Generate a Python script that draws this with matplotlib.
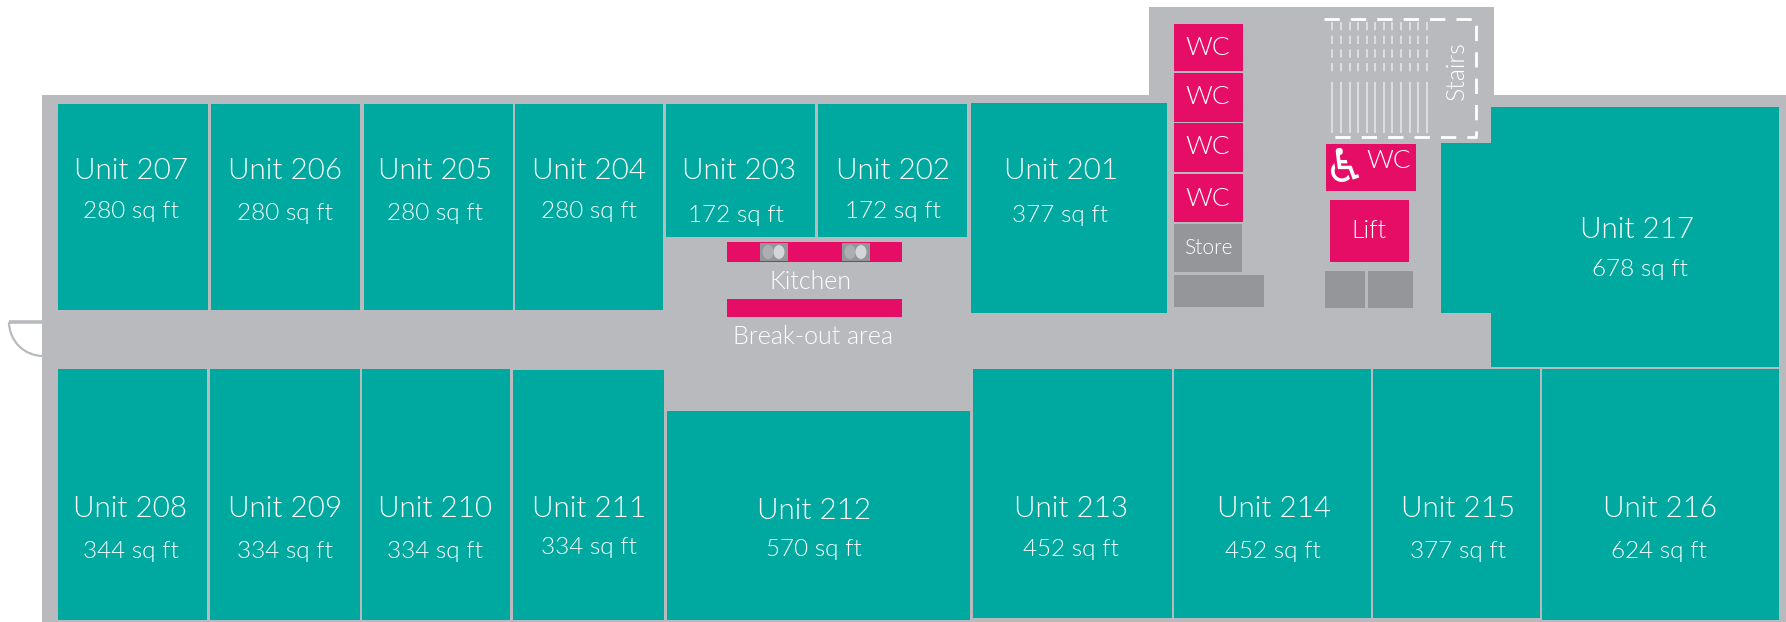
import matplotlib
matplotlib.use("Agg")
import matplotlib.pyplot as plt
from matplotlib import font_manager
from matplotlib.patches import Rectangle, Arc, Ellipse

teal = "#00a9a0"
pink = "#e60d66"
wall = "#b9babe"
dark = "#959699"

units = ["207", "206", "205", "204", "203", "202", "201", "217",
         "208", "209", "210", "211", "212", "213", "214", "215", "216"]
areas = [280, 280, 280, 280, 172, 172, 377, 678,
         344, 334, 334, 334, 570, 452, 452, 377, 624]

# x0, x1, y0, y1 in image pixels
unit_boxes = [(58, 208, 104, 310), (211, 360, 104, 310), (364, 513, 104, 310),
              (515, 663, 104, 310), (666, 815, 104, 237), (818, 967, 104, 237),
              (971, 1167, 103, 313), (1491, 1779, 107, 367),
              (58, 207, 369, 620), (210, 360, 369, 620), (362, 510, 369, 620),
              (513, 664, 370, 620), (667, 970, 411, 620), (973, 1172, 369, 618),
              (1174, 1371, 369, 618), (1373, 1540, 369, 618), (1542, 1779, 369, 620)]
notch_217 = (1441, 1491, 143, 313)

name_x = [131, 285, 435, 589, 739, 893, 1061, 1637,
          130, 285, 435, 589, 814, 1071, 1274, 1458, 1660]
name_y = [171, 171, 171, 171, 171, 171, 171, 230,
          509, 509, 509, 509, 511, 509, 509, 509, 509]
area_x = [131, 285, 435, 589, 736, 893, 1060, 1640,
          131, 285, 435, 589, 814, 1071, 1273, 1458, 1659]
area_y = [212, 213, 213, 212, 216, 212, 215, 270,
          551, 551, 551, 548, 550, 550, 552, 552, 551]

wc_boxes = [(1174, 1243, 24, 71), (1174, 1243, 73, 122),
            (1174, 1243, 123, 172), (1174, 1243, 174, 222)]
pink_boxes = [(1326, 1416, 144, 191), (1330, 1409, 200, 262),
              (727, 902, 242, 262), (727, 902, 299, 317)]
grey_boxes = [(1174, 1242, 224, 272), (1174, 1264, 275, 307),
              (1325, 1365, 271, 308), (1368, 1413, 271, 308),
              (760, 788, 243, 261), (842, 870, 243, 261)]
stair_x = [1332, 1341, 1350, 1358, 1367, 1375, 1384, 1392, 1401, 1410, 1418, 1427]

# Lato's light cut: the weight lookup lands on Hairline, which is too thin
light = [f.fname for f in font_manager.fontManager.ttflist
         if f.name == "Lato" and f.fname.endswith("-Light.ttf")]
if light:
    base = dict(fname=light[0])
else:
    base = dict(family=["Roboto"], weight="light")


def box(ax, b, color):
    ax.add_patch(Rectangle((b[0], b[2]), b[1] - b[0], b[3] - b[2],
                           facecolor=color, edgecolor="none"))


def label(ax, x, y, s, size, **kw):
    fp = font_manager.FontProperties(size=size, **base)
    ax.text(x, y, s, color="white", fontproperties=fp,
            ha="center", va="center", **kw)


fig = plt.figure(figsize=(17.86, 6.22), dpi=100)
ax = fig.add_axes([0, 0, 1, 1])
ax.set_xlim(0, 1786)
ax.set_ylim(622, 0)
ax.axis("off")

# building outline
box(ax, (42, 1786, 95, 622), wall)
box(ax, (1149, 1494, 7, 95), wall)

for b in unit_boxes:
    box(ax, b, teal)
box(ax, notch_217, teal)
for b in wc_boxes + pink_boxes:
    box(ax, b, pink)
for b in grey_boxes:
    box(ax, b, dark)

# taps on the kitchen worktop
for x in [768, 779, 850, 861]:
    shade = "#d4d5d7" if x in (779, 861) else "#adaeb1"
    ax.add_patch(Ellipse((x, 252), 11, 14, facecolor=shade, edgecolor="none"))

# door
ax.plot([9, 45], [322, 322], color=wall, lw=2.6, solid_capstyle="butt")
ax.add_patch(Arc((43, 322), 68, 68, theta1=90, theta2=180, color=wall, lw=1.6))

# stairs
ax.vlines(stair_x, 82, 133, color="#e4e5e7", lw=1.2)
ax.vlines(stair_x, 22, 75, color="#e4e5e7", lw=1.2, linestyles=(0, (5, 3.2)))
dash = (0, (5.5, 4))
ax.plot([1324, 1476, 1476, 1325], [19, 19, 137, 137], color="white", lw=2,
        linestyle=dash)

for i, u in enumerate(units):
    label(ax, name_x[i], name_y[i], "Unit " + u, 21.3)
    label(ax, area_x[i], area_y[i], str(areas[i]) + " sq ft", 17.5)

for y in [48, 97, 147, 199]:
    label(ax, 1208, y, "WC", 19)
label(ax, 1389, 161, "WC", 19)
ax.text(1345, 170, "\u267f", color="white", fontsize=34, family=["DejaVu Sans"],
        ha="center", va="center")
label(ax, 1369, 231, "Lift", 18)
label(ax, 1208, 248, "Store", 15)
label(ax, 810, 282, "Kitchen", 18)
label(ax, 813, 337, "Break-out area", 18)
label(ax, 1457, 71, "Stairs", 18, rotation=90)

fig.savefig("out.png", dpi=100)
